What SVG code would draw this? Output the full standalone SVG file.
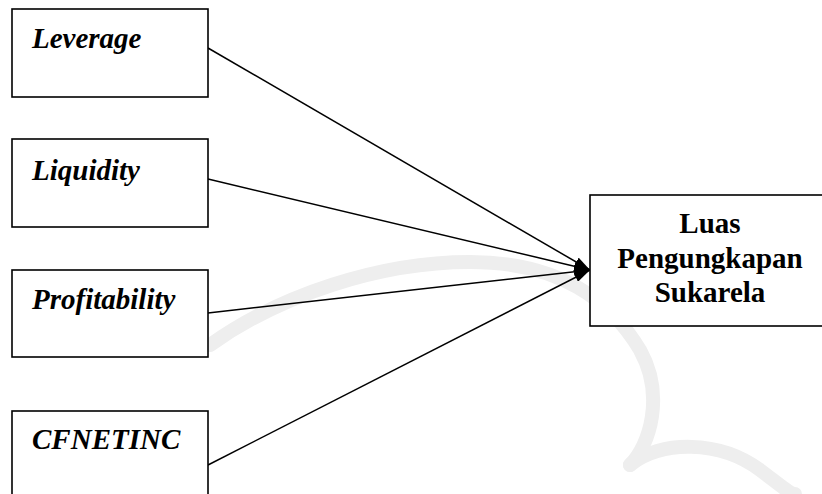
<svg xmlns="http://www.w3.org/2000/svg" width="822" height="494" viewBox="0 0 822 494">
<style>
.box{fill:#fff;stroke:#000;stroke-width:1.6}
.lbl{font-family:'Liberation Serif','Times New Roman',serif;font-size:29px;font-weight:bold;font-style:italic;fill:#000}
.tgt{font-family:'Liberation Serif','Times New Roman',serif;font-size:29px;font-weight:bold;fill:#000;text-anchor:middle}
.edge{stroke:#000;stroke-width:1.5;fill:none;marker-end:url(#ah)}
.wm{fill:none;stroke:#eeeeee;stroke-width:14;stroke-linecap:round}
</style>
<defs>
<marker id="ah" markerUnits="userSpaceOnUse" markerWidth="16" markerHeight="10" refX="16" refY="5" orient="auto">
<path d="M0,0 L16,5 L0,10 z" fill="#000"/>
</marker>
</defs>
<rect width="822" height="494" fill="#fff"/>
<g id="watermark">
<path class="wm" d="M210,345 C280,295 380,262 470,262 C560,262 610,300 640,350 C665,395 650,445 630,465"/>
<path class="wm" d="M630,465 C660,440 720,440 760,470 C780,485 790,494 795,494"/>
</g>
<g id="connectors">
<line class="edge" x1="208" y1="48" x2="590" y2="270"/>
<line class="edge" x1="208" y1="179" x2="590" y2="270"/>
<line class="edge" x1="208" y1="313" x2="590" y2="270"/>
<line class="edge" x1="208" y1="465" x2="590" y2="270"/>
</g>
<g id="leverage">
<rect class="box" x="12" y="9" width="196" height="88"/>
<text class="lbl" x="32" y="48">Leverage</text>
</g>
<g id="liquidity">
<rect class="box" x="12" y="139" width="196" height="88"/>
<text class="lbl" x="32" y="180">Liquidity</text>
</g>
<g id="profitability">
<rect class="box" x="12" y="270" width="196" height="87"/>
<text class="lbl" x="32" y="309">Profitability</text>
</g>
<g id="cfnetinc">
<rect class="box" x="12" y="411" width="196" height="100"/>
<text class="lbl" x="32" y="449">CFNETINC</text>
</g>
<g id="luas">
<rect class="box" x="590" y="195" width="250" height="131"/>
<text class="tgt" x="710" y="233">Luas</text>
<text class="tgt" x="710" y="268">Pengungkapan</text>
<text class="tgt" x="710" y="302">Sukarela</text>
</g>
</svg>
